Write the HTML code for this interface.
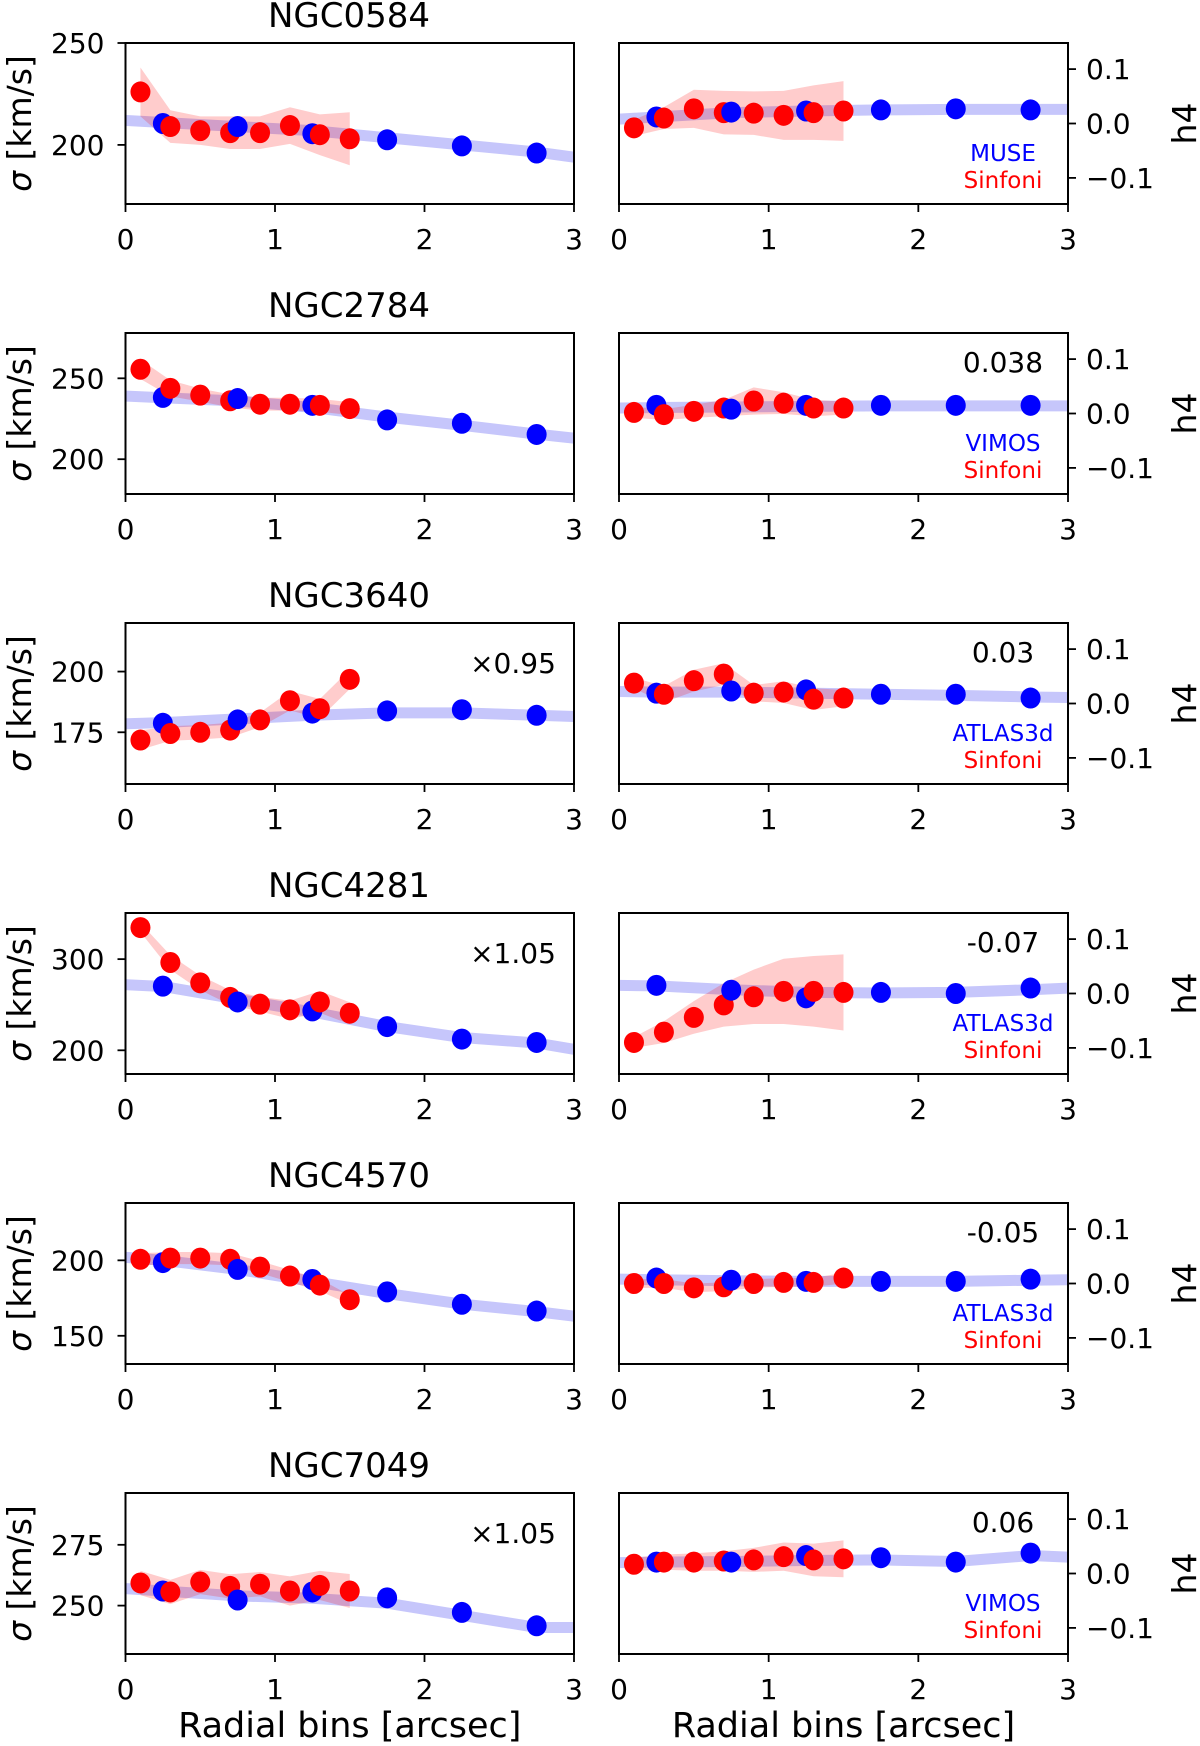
<!DOCTYPE html>
<html><head><meta charset="utf-8"><style>
html,body{margin:0;padding:0;background:#fff}
svg{display:block;font-family:"DejaVu Sans","Liberation Sans",sans-serif}
</style></head><body>
<svg id="fig" width="1200" height="1746" viewBox="0 0 1200 1746" xmlns="http://www.w3.org/2000/svg"></svg>
<script>
const galaxies = ["NGC0584","NGC2784","NGC3640","NGC4281","NGC4570","NGC7049"];
const redX = [0.1,0.3,0.5,0.7,0.9,1.1,1.3,1.5];
const blueX = [0.25,0.75,1.25,1.75,2.25,2.75];
const fitX = [0,0.25,0.75,1.25,1.75,2.25,2.75,3];
const xTicks = [0,1,2,3];
const instruments = ["MUSE","VIMOS","ATLAS3d","ATLAS3d","ATLAS3d","VIMOS"];
const scaleLabels = ["","","×0.95","×1.05","","×1.05"];
const h4Labels = ["","0.038","0.03","-0.07","-0.05","0.06"];
const sigYlim = [[171,250],[178.5,278],[153.7,220],[174,350.6],[131.3,238],[230.1,296.3]];
const sigTicks = [[200,250],[200,250],[175,200],[200,300],[150,200],[250,275]];
const h4Ylim = [-0.148,0.148];
const h4Ticks = [-0.1,0.0,0.1];
const h4TickLabels = ["−0.1","0.0","0.1"];

const sigRed = [
 [226,209,207,206,206,209.5,205,203],
 [255.6,243.8,239.6,236.1,234,234,233.3,231.3],
 [171.8,174.5,175,175.9,180.1,188,184.7,196.8],
 [334.6,296.3,274,258,250.6,244.4,253,240.7],
 [200.7,201.5,201.5,200.7,195.5,189.6,183.6,173.9],
 [259.3,255.6,259.7,257.9,258.8,256,258.3,256]];
const sigRedErr = [
 [12,8,7,8,8,9,10,13],
 [6,5,4,4,4,4,4,4],
 [4,3,3,3,3,4,4,4],
 [5,8,8,8,8,10,12,12],
 [4,4,4,4,4,4,4,3],
 [5,5,5,5,5,6,6,7]];
const sigBlue = [
 [210.5,209,205.5,202.5,199.5,196],
 [238.2,237.5,233.3,224.3,222.2,215.3],
 [178.7,180.1,182.9,183.8,184.3,182],
 [270.4,253,243.2,226,212.3,208.6],
 [198.5,194,187.3,179.1,170.9,166.4],
 [256,252.3,255.6,253.2,247.2,241.7]];
const sigFit = [
 [212,211,209,207,203.5,200,196.5,194],
 [239,238,236,232,226,221,215.5,213],
 [178.5,179,180.5,182,183,183,182,181.5],
 [272,270,256,242,226,214,208,201],
 [202,200,194,186,178,171,166,163],
 [257,256,254,253,251,246,241,241]];
const h4Red = [
 [-0.008,0.01,0.027,0.02,0.019,0.015,0.02,0.023],
 [0.002,-0.002,0.004,0.01,0.023,0.019,0.01,0.01],
 [0.0375,0.017,0.042,0.054,0.019,0.021,0.008,0.01],
 [-0.09,-0.071,-0.044,-0.021,-0.006,0.004,0.004,0.002],
 [0,0,-0.008,-0.006,0,0.002,0.002,0.01],
 [0.017,0.021,0.021,0.023,0.025,0.031,0.025,0.027]];
const h4RedErr = [
 [0.015,0.02,0.035,0.04,0.04,0.045,0.05,0.055],
 [0.01,0.01,0.012,0.015,0.025,0.02,0.015,0.012],
 [0.01,0.015,0.02,0.02,0.015,0.02,0.02,0.015],
 [0.01,0.02,0.03,0.04,0.05,0.06,0.065,0.07],
 [0.008,0.008,0.008,0.008,0.008,0.008,0.008,0.01],
 [0.012,0.014,0.016,0.018,0.022,0.026,0.03,0.034]];
const h4Blue = [
 [0.012,0.021,0.023,0.025,0.027,0.025],
 [0.015,0.008,0.015,0.015,0.015,0.015],
 [0.019,0.023,0.025,0.017,0.017,0.01],
 [0.015,0.006,-0.008,0.002,0,0.01],
 [0.01,0.006,0.004,0.004,0.004,0.008],
 [0.021,0.021,0.033,0.029,0.021,0.0375]];
const h4Fit = [
 [0.008,0.012,0.02,0.023,0.025,0.026,0.026,0.026],
 [0.01,0.011,0.012,0.013,0.014,0.014,0.014,0.014],
 [0.022,0.021,0.021,0.019,0.017,0.015,0.012,0.011],
 [0.015,0.014,0.007,0.002,0.001,0.002,0.007,0.01],
 [0.008,0.007,0.005,0.004,0.004,0.004,0.006,0.007],
 [0.02,0.021,0.022,0.024,0.025,0.022,0.033,0.03]];

const NS = "http://www.w3.org/2000/svg";
const svg = document.getElementById("fig");
function mk(tag, attrs, parent){
  const e = document.createElementNS(NS, tag);
  for (const k in attrs) e.setAttribute(k, attrs[k]);
  (parent||svg).appendChild(e);
  return e;
}
const LX = [125.5,574], RX = [619,1068];
const TOP0 = 43, PITCH = 290, H = 161;
const TF = 28;

function panel(i, side){
  const xr = side==="L" ? LX : RX;
  const top = TOP0 + PITCH*i, bot = top + H;
  const ylim = side==="L" ? sigYlim[i] : h4Ylim;
  const sx = v => xr[0] + (v/3)*(xr[1]-xr[0]);
  const sy = v => bot - (v-ylim[0])/(ylim[1]-ylim[0])*H;
  const g = mk("g", {});
  
  
  const cid = "clip"+side+i;
  const cp = mk("clipPath", {id:cid}, g);
  mk("rect", {x:xr[0], y:top, width:xr[1]-xr[0], height:H}, cp);
  const plot = mk("g", {"clip-path":"url(#"+cid+")"}, g);
  const rv = side==="L" ? sigRed[i] : h4Red[i];
  const re = side==="L" ? sigRedErr[i] : h4RedErr[i];
  const bv = side==="L" ? sigBlue[i] : h4Blue[i];
  const fv = side==="L" ? sigFit[i] : h4Fit[i];
  const fb = mk("polyline", {points: fitX.map((x,k)=>sx(x)+","+sy(fv[k])).join(" "), fill:"none", stroke:"#c6c6fb", "stroke-width":11, "stroke-linejoin":"round"}, plot);
  
  
  const up = redX.map((x,k)=>sx(x)+","+sy(rv[k]+re[k]));
  const dn = redX.map((x,k)=>sx(x)+","+sy(rv[k]-re[k])).reverse();
  const rb = mk("polygon", {points: up.concat(dn).join(" "), fill:"#ff0000", "fill-opacity":0.2}, plot);
  
  
  const pts = [];
  redX.forEach((x,k)=>pts.push([x,rv[k],"#ff0000","red-point"]));
  blueX.forEach((x,k)=>pts.push([x,bv[k],"#0000ff","blue-point"]));
  pts.sort((a,b)=>a[0]-b[0]);
  pts.forEach(p=>{
    const c = mk("ellipse", {cx:sx(p[0]), cy:sy(p[1]), rx:10, ry:10.5, fill:p[2]}, plot);
    
    
  });
  const fr = mk("rect", {x:xr[0], y:top, width:xr[1]-xr[0], height:H, fill:"none", stroke:"#000", "stroke-width":2}, g);
  
  
  xTicks.forEach(t=>{
    mk("line", {x1:sx(t), x2:sx(t), y1:bot, y2:bot+8, stroke:"#000", "stroke-width":1.8}, g);
    const tx = mk("text", {x:sx(t), y:bot+45, "font-size":TF, "text-anchor":"middle"}, g);
    tx.textContent = t;
    
    
  });
  if (side==="L"){
    sigTicks[i].forEach(t=>{
      mk("line", {x1:xr[0]-8, x2:xr[0], y1:sy(t), y2:sy(t), stroke:"#000", "stroke-width":1.8}, g);
      const tx = mk("text", {x:xr[0]-21, y:sy(t)+10, "font-size":TF, "text-anchor":"end"}, g);
      tx.textContent = t;
      
      
    });
    const yl = mk("text", {transform:"translate(31,"+(top+H/2)+") rotate(-90)", "font-size":33, "text-anchor":"middle"}, g);
    yl.innerHTML = '<tspan font-style="italic">σ</tspan> [km/s]';
    
    
    const tt = mk("text", {x:349, y:top-16, "font-size":34, "text-anchor":"middle"}, g);
    tt.textContent = galaxies[i];
    
    
    if (scaleLabels[i]){
      const s = mk("text", {x:513, y:top+50, "font-size":TF, "text-anchor":"middle"}, g);
      s.textContent = scaleLabels[i];
      
      
    }
  } else {
    h4Ticks.forEach((t,k)=>{
      mk("line", {x1:xr[1], x2:xr[1]+8, y1:sy(t), y2:sy(t), stroke:"#000", "stroke-width":1.8}, g);
      const tx = mk("text", {x:xr[1]+18, y:sy(t)+10, "font-size":TF, "text-anchor":"start"}, g);
      tx.textContent = h4TickLabels[k];
      
      
    });
    const yl = mk("text", {transform:"translate(1196,"+(top+H/2)+") rotate(-90)", "font-size":33, "text-anchor":"middle"}, g);
    yl.textContent = "h4";
    
    
    if (h4Labels[i]){
      const s = mk("text", {x:1003, y:top+39, "font-size":TF, "text-anchor":"middle"}, g);
      s.textContent = h4Labels[i];
      
      
    }
    const l1 = mk("text", {x:1003, y:top+118, "font-size":23, "text-anchor":"middle", fill:"#0000ff"}, g);
    l1.textContent = instruments[i];
    
    
    const l2 = mk("text", {x:1003, y:top+145, "font-size":23, "text-anchor":"middle", fill:"#ff0000"}, g);
    l2.textContent = "Sinfoni";
    
    
  }
}
for (let i=0;i<galaxies.length;i++){ panel(i,"L"); panel(i,"R"); }
["L","R"].forEach(s=>{
  const xr = s==="L"?LX:RX;
  const t = mk("text", {x:(xr[0]+xr[1])/2, y:1737, "font-size":35, "text-anchor":"middle"});
  t.textContent = "Radial bins [arcsec]";
  
  
});
</script>
</body></html>
